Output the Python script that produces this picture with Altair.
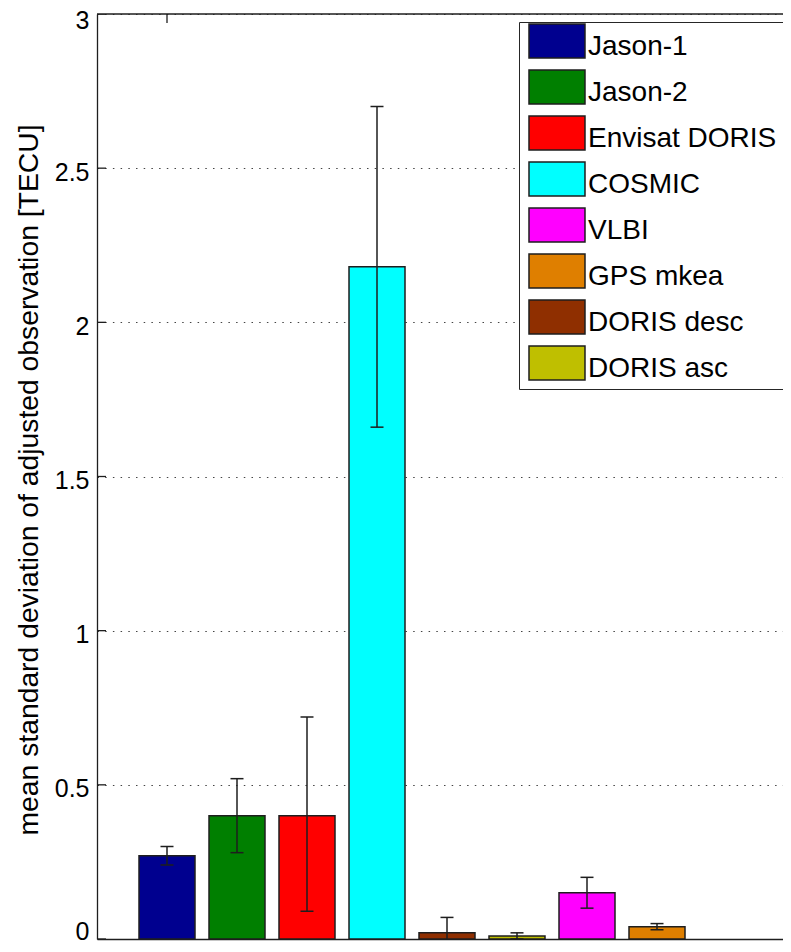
import altair as alt
import pandas as pd

# ---- data ----
bar_names = ["Jason-1", "Jason-2", "Envisat DORIS", "COSMIC",
             "DORIS desc", "DORIS asc", "VLBI", "GPS mkea"]
bar_pos = [1, 2, 3, 4, 5, 6, 7, 8]
bar_mean = [0.27, 0.40, 0.40, 2.18, 0.02, 0.01, 0.15, 0.04]
err_low = [0.24, 0.28, 0.09, 1.66, -0.03, 0.00, 0.10, 0.03]
err_high = [0.30, 0.52, 0.72, 2.70, 0.07, 0.02, 0.20, 0.05]

legend_order = ["Jason-1", "Jason-2", "Envisat DORIS", "COSMIC",
                "VLBI", "GPS mkea", "DORIS desc", "DORIS asc"]
legend_colors = ["#00008F", "#007F00", "#FF0000", "#00FFFF",
                 "#FF00FF", "#DF7F00", "#8F2F00", "#BFBF00"]

y_ticks = [0, 0.5, 1, 1.5, 2, 2.5, 3]
x_ticks = [1]
x_domain = [0, 9.8]
y_domain = [0, 3]

y_title = "mean standard deviation of adjusted observation [TECU]"

FONT = "Liberation Sans"
EDGE = "#1e1e1e"

df = pd.DataFrame({"name": bar_names, "pos": bar_pos, "mean": bar_mean,
                   "lo": err_low, "hi": err_high})

xs = alt.Scale(domain=x_domain, nice=False, zero=False, padding=0)
ys = alt.Scale(domain=y_domain, nice=False, padding=0)

x_axis = alt.Axis(labels=False, ticks=False, tickSize=0, grid=False,
                  domain=True, domainColor=EDGE, domainWidth=1.3, title=None)
y_axis = alt.Axis(values=y_ticks, format="~g", grid=True,
                  gridDash=[1.5, 6.2], gridColor="#444444", gridWidth=1,
                  ticks=False, tickSize=0, labelPadding=8,
                  labelFontSize=25, labelFont=FONT, labelColor="black",
                  labelOffset={"condition": [
                      {"test": "datum.value == 0", "value": -8},
                      {"test": "datum.value == 3", "value": 6}],
                      "value": 4},
                  domain=True, domainColor=EDGE,
                  domainWidth=1.3, title=y_title,
                  titleFont=FONT, titleFontSize=28.3,
                  titleFontWeight="normal", titleColor="black",
                  titleX=-60, titleY=465.5, titleAngle=270,
                  titleAlign="center", titleBaseline="alphabetic")

base = alt.Chart(df)

bars = base.transform_calculate(
    x0="datum.pos - 0.4", x1="datum.pos + 0.4"
).mark_bar(stroke=EDGE, strokeWidth=1.5, opacity=1, orient="vertical").encode(
    x=alt.X("x0:Q", scale=xs, axis=x_axis),
    x2="x1:Q",
    y=alt.Y("mean:Q", scale=ys, axis=y_axis),
    y2=alt.datum(y_domain[0]),
    color=alt.Color("name:N",
                    scale=alt.Scale(domain=legend_order, range=legend_colors),
                    legend=alt.Legend(
                        orient="none", legendX=422, legendY=8, title=None,
                        symbolType="M-0.829,-1.29L2.371,-1.29L2.371,0.65L-0.829,0.65Z",
                        symbolSize=1225, symbolStrokeColor=EDGE,
                        symbolStrokeWidth=1.5, symbolOpacity=1,
                        labelFontSize=28, labelFont=FONT, labelColor="black",
                        labelOffset=26, labelLimit=400, rowPadding=5,
                        padding=6, strokeColor="#262626", fillColor="white")),
)

err_line = base.mark_rule(color=EDGE, strokeWidth=1.5, clip=True).encode(
    x=alt.X("pos:Q", scale=xs, axis=x_axis),
    y=alt.Y("lo:Q", scale=ys, axis=y_axis), y2="hi:Q")
cap_hi = base.mark_tick(orient="horizontal", size=13, thickness=1.5,
                        color=EDGE, clip=True, opacity=1).encode(
    x=alt.X("pos:Q", scale=xs, axis=x_axis),
    y=alt.Y("hi:Q", scale=ys, axis=y_axis))
cap_lo = base.mark_tick(orient="horizontal", size=13, thickness=1.5,
                        color=EDGE, clip=True, opacity=1).encode(
    x=alt.X("pos:Q", scale=xs, axis=x_axis),
    y=alt.Y("lo:Q", scale=ys, axis=y_axis))

ytick_marks = alt.Chart(pd.DataFrame({"v": y_ticks})).mark_tick(
    orient="horizontal", size=18, thickness=1.3, color=EDGE, clip=True,
    opacity=1).encode(
    x=alt.X(datum=x_domain[0], type="quantitative", scale=xs, axis=x_axis),
    y=alt.Y("v:Q", scale=ys, axis=y_axis))
xtick_marks = alt.Chart(pd.DataFrame({"p": x_ticks})).mark_tick(
    orient="vertical", size=18, thickness=1.3, color=EDGE, clip=True,
    opacity=1).encode(
    x=alt.X("p:Q", scale=xs, axis=x_axis),
    y=alt.Y(datum=y_domain[1], type="quantitative", scale=ys, axis=y_axis))
top_border = alt.Chart(pd.DataFrame({"t": [y_domain[1]]})).mark_rule(
    color=EDGE, strokeWidth=1.3).encode(
    x=alt.X(datum=x_domain[0], type="quantitative", scale=xs, axis=x_axis),
    x2=alt.datum(x_domain[1]),
    y=alt.Y("t:Q", scale=ys, axis=y_axis))

chart = alt.layer(
    ytick_marks, xtick_marks, bars, err_line, cap_hi, cap_lo, top_border
).properties(
    width=686, height=925,
    padding={"left": 89, "top": 6, "right": 0, "bottom": 2},
    autosize=alt.AutoSizeParams(type="none"),
).configure_view(stroke="transparent")

chart.save("out.html", embed_options={"renderer": "svg", "actions": False})
